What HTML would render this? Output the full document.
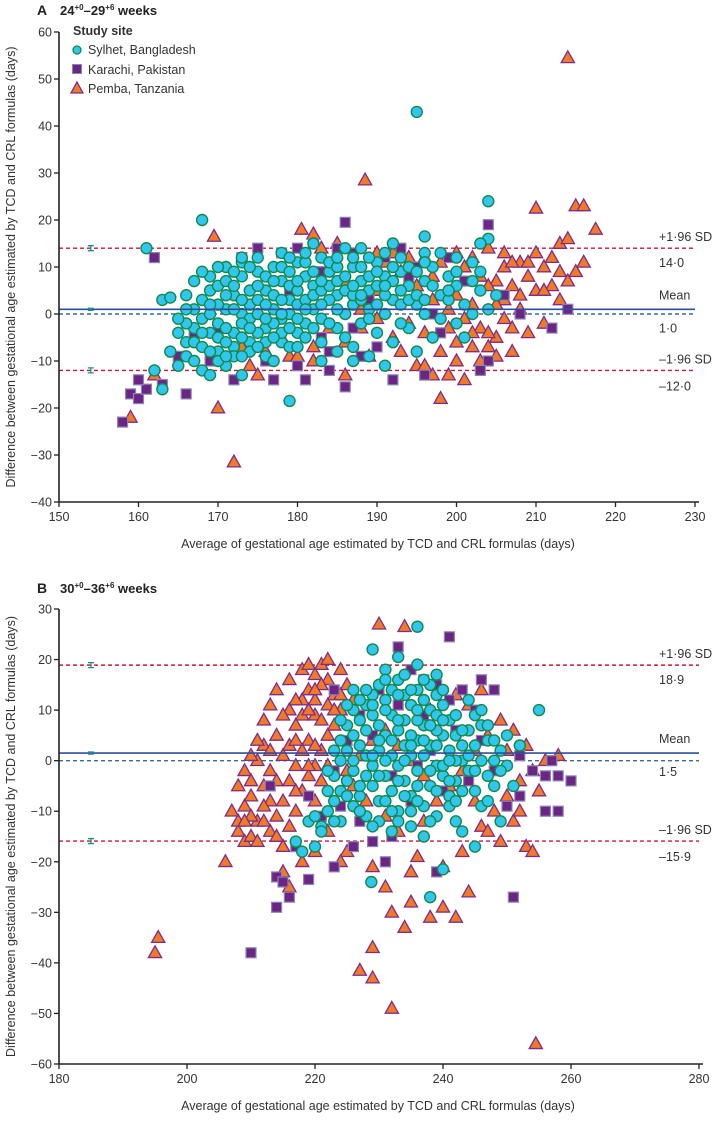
<!DOCTYPE html>
<html><head><meta charset="utf-8"><style>
body{margin:0;background:#fff}
svg{display:block;font-family:"Liberation Sans",sans-serif}
</style></head><body>
<svg id="chart" width="714" height="1134" viewBox="0 0 714 1134" xmlns="http://www.w3.org/2000/svg"></svg>
<script>
// Panel A data
const aCircX=[161,168,195,204,204,196,163,164,162,163,165,164,166,167,168,165,166,167,168,169,171,173,179,170,172,174,176,178,180,167,168,169,170,171,172,173,174,175,176,177,178,179,180,181,182,183,184,185,186,187,188,189,190,191,192,193,194,195,196,197,198,199,200,201,202,203,204,205,169,170,171,172,173,174,175,176,177,178,179,180,181,182,183,184,185,186,187,188,189,190,191,192,193,194,195,196,197,198,199,200,201,202,170,171,172,173,174,175,176,177,178,179,180,181,182,183,184,185,186,187,188,189,190,191,192,193,194,166,167,168,169,170,171,172,173,174,175,176,177,178,179,181,183,185,187,189,191,171,173,175,178,182,188,192,196,200,203,
165,166,166,167,168,169,169,170,170,171,172,172,173,173,174,174,175,175,176,176,177,177,178,178,179,179,180,180,180,181,181,182,182,183,183,184,184,185,185,186,186,187,187,188,188,189,189,190,190,191,191,192,193,193,194,195,195,196,196,197,198,199,200,202,203,168,169,171,173,177,179,181,183,185,187];
const aCircY=[14,20,43,24,16,16.5,3,3.5,-12,-16,-11,-8,-6,-3,-1,-4,-9,-10,-12,-13,-11,-13,-18.5,-8,-7,-6,-9,-6,-4,1,3,5,6,7,4,8,2,9,5,10,7,3,11,8,6,12,9,4,14,10,7,5,11,8,3,9,6,2,7,10,4,8,6,2,11,5,1,4,0,-2,1,-4,0,-1,3,-3,1,-1,0,2,-2,1,-1,3,-3,0,2,-2,1,-4,0,-6,2,-3,-8,0,-5,-1,3,-2,-5,0,2,4,1,3,5,6,2,4,3,6,5,3,4,5,6,7,5,4,3,8,6,4,7,5,3,-2,-6,-7,-4,-5,-3,-9,-5,-8,-4,-6,-2,-4,-7,-5,-6,-8,-7,-9,-11,10,11,12,13,15,14,15,13,12,15,
-1,1,4,7,-4,2,8,10,-10,-6,6,9,-2,-9,10,-3,0,-7,8,-1,7,-5,10,0,9,-3,7,-1,-7,11,1,9,-3,7,2,11,-2,10,1,8,-5,12,6,10,4,12,-1,9,2,13,6,10,12,-2,10,9,4,11,3,6,13,5,9,7,9,9,-8,-9,12,-10,12,13,-10,12,-10];
const aSqX=[158,159,160,161,160,163,166,162,170,173,175,178,180,182,185,186,187,191,193,195,199,204,204,203,177,181,184,186,188,190,184,183,176,172,169,165,167,180,192,197,201,206,208,212,214,196,198,194,189,187,183,179];
const aSqY=[-23,-17,-18,-16,-14,-15,-17,12,-4,12,14,13,14,15,14,19.5,13,12,14,10,12,19,-10,-12,-14,-14,-12,-15.5,-9,-7,-8,-5,-10,-14,-10,-9,-5,-11,-14,0,7,4,0,-3,1,-13,-4,8,3,-3,9,5];
const aTriX=[214,188.5,172,159,169.5,180.5,182,183,185,175,179,182,186,189,193,195,198,196,200,202,204,205,203,201,199,197,195,193,191,190,192,194,196,198,200,202,204,206,208,210,212,211,213,209,207,205,206,208,210,212,214,215,216,213,214,215,216,210,217.5,208,206,204,202,200,198,196,194,192,190,188,186,184,182,180,178,176,174,211,209,207,205,203,201,199,197,170,162,173,188,190,186,
200,202,204,206,207,209,211,213,203,201,197,199,205,207];
const aTriY=[54.5,28.5,-31.5,-22,16.5,18,17,14,15,-13,-9,-10,-13,-9,-8,-11,-18,-11,-10,-7,-7,-5,-3,-1,1,3,6,9,11,13,13,12,12,11,13,12,14,13,11,13,12,10,9,8,6,7,10,4,5,6,7,9,11,15,16,23,23,22.5,18,1,-1,-4,-4,-6,-8,-4,-2,-5,-1,1,-6,-3,-7,-9,-5,-8,-11,-2,-4,-8,-9,-10,-14,-13,-13,-20,-13,-7,-3,5,7,
4,2,6,3,11,11,5,3,8,10,8,-3,2,-3];
// Panel B data
const bCircX=[233,236,229,231,228.8,238,240,243,245,255,249,252,220,218,217,219,221,222,223,224,225,224,226,227,228,229,230,231,232,233,234,235,236,237,238,239,240,241,242,243,244,245,246,247,248,249,250,251,225,226,227,228,229,230,231,232,233,234,235,236,237,238,239,240,241,242,243,244,245,246,247,224,225,226,227,228,229,230,231,232,233,234,235,236,237,238,239,240,241,242,228,229,230,231,232,233,234,235,236,237,238,239,240,241,242,226,227,223,222,221,220,230,232,235,237,239,226,224,233,236,
222,223,224,225,226,227,228,228,229,229,230,230,231,231,232,232,233,233,234,234,234,235,235,236,236,237,237,238,238,239,239,240,240,241,241,242,242,243,243,244,244,245,245,246,246,247,247,248,248,249,250,227,231,235,238,233,229,225,223,236,239];
const bCircY=[20.5,26.5,22,18,-24,-27,-21.5,-14,-17,10,-12,3,-17,-18,-16,-12,-13,-10,-8,-6,-4,-12,-9,-7,-11,-5,-8,-3,-6,-10,-4,-7,-2,-9,-5,-1,-3,-7,-4,0,-2,-6,-9,-3,0,2,-1,-5,2,5,8,11,13,15,12,9,6,3,1,4,7,10,13,11,8,5,3,6,9,7,4,0,7,10,3,1,-1,2,5,1,-1,8,11,14,12,15,9,5,2,0,6,9,4,0,14,16,13,5,8,1,3,6,-1,-9,-12,-2,-5,-3,-6,-14,-11,-12,-14,-13,-15,-11,0,4,-4,-5,
-2,2,8,11,14,-10,-3,14,1,11,7,-3,10,-8,4,-10,8,13,0,-7,17,3,14,-8,10,4,16,-2,7,3,-6,8,14,0,-4,9,-8,6,-6,1,12,3,-2,0,10,7,-8,-5,4,-2,5,12,16,-10,-12,-12,-13,-7,-12,19,17];
const bSqX=[210,214,215,216,214,219,217,223,226,229,232,231,239,251,241,233,235,237,239,243,246,248,245,241,237,233,230,227,225,223,224,227,235,240,244,248,252,254,256,257,258,260,258,256,252,250,246,242,238,236,232,229,223,219,221,213];
const bSqY=[-38,-23,-24,-27,-29,-23.5,-17,-21,-17,-16,-15,-20,-22,-27,24.5,22.5,18,16,15,14,16,14,10,12,9,11,14,9,4,-2,-9,-12,-8,-6,-4,-2,1,-2,-3,0,-3,-4,-10,-10,-7,-9,4,6,2,-1,-3,5,14,-7,-11,-5];
const bTriX=[195.5,195,206,208,208,209,209,210,211,210,212,213,211,212,213,214,215,214,216,217,216,218,219,220,221,222,223,224,225,226,224,223,222,221,220,219,218,217,216,215,220,219,221,222,218,217,220,215,216,218,220,227,229,229,232,230,234,254.5,242,234,232,235,238,240,231,235,229,236,240,244,243,246,248,250,252,254,256,253,251,249,247,245,243,241,239,237,233,231,228,226,225,227,229,231,233,235,237,245,247,249,251,253,255,252,244,246,238,242,250,254,258,225,224,222,213,
207,208,209,210,210,211,212,212,213,213,214,214,215,215,216,216,217,217,218,218,219,219,220,220,221,221,222,222,223,224,217,219,220,214,212,211,210,209];
const bTriY=[-35,-38,-20,-14,-12,-9,-16,-15,-12,-7,-5,-2,0,3,-8,5,1,-11,-4,7,10,12,14,17,19,16,13,18,15,12,10,7,5,2,-1,-3,-6,-10,-13,-17,9,4,8,11,2,-1,-8,-22,-25,-20,-18,-41.5,-43,-37,-49,27,26.5,-56,-31,-33,-30,-28,-31,-29,-25,-22,-21,-19,-21,-26,-18,-13,-10,-7,-4,-2,0,3,6,8,5,2,-2,-5,-8,-12,-14,-11,-8,-5,-2,1,4,6,3,0,-3,-8,-14,-16,-12,-17,-6,-10,11,14,10,13,2,-18,1,-18,-20,-14,-14,
-10,-5,-2,1,-11,4,-9,8,2,11,-4,14,9,-8,3,16,12,-6,18,9,-1,10,12,3,15,-4,20,-1,10,13,4,19,14,-15,-12,-16,-4,-12];
// Axis ticks and stats
const aXTicks=[150,160,170,180,190,200,210,220,230];
const aYTicks=[-40,-30,-20,-10,0,10,20,30,40,50,60];
const bXTicks=[180,200,220,240,260,280];
const bYTicks=[-60,-50,-40,-30,-20,-10,0,10,20,30];
const aStats=[14.0,1.0,-12.0];
const bStats=[18.9,1.5,-15.9];

const NS="http://www.w3.org/2000/svg";
const svg=document.getElementById('chart');
function mk(tag,attrs,parent){const e=document.createElementNS(NS,tag);for(const k in attrs)e.setAttribute(k,attrs[k]);(parent||svg).appendChild(e);return e;}
function txt(s,attrs,parent){const e=mk('text',attrs,parent);e.textContent=s;return e;}

function panel(cfg){
  const g=mk('g',{});
  
  
  const sx=v=>cfg.x0+(v-cfg.xmin)*(cfg.x1-cfg.x0)/(cfg.xmax-cfg.xmin);
  const sy=v=>cfg.y0+(v-cfg.ymin)*(cfg.y1-cfg.y0)/(cfg.ymax-cfg.ymin);
  const st=cfg.stats;
  let l;
  l=mk('line',{x1:cfg.x0,x2:cfg.x1,y1:sy(st[0]),y2:sy(st[0]),stroke:'#c8173c','stroke-width':1.4,'stroke-dasharray':'4,3'},g);
  
  l=mk('line',{x1:cfg.x0,x2:cfg.x1,y1:sy(st[2]),y2:sy(st[2]),stroke:'#c8173c','stroke-width':1.4,'stroke-dasharray':'4,3'},g);
  
  l=mk('line',{x1:cfg.x0,x2:cfg.x1,y1:sy(0),y2:sy(0),stroke:'#3a6e80','stroke-width':1.4,'stroke-dasharray':'4,3'},g);
  
  const tri=mk('g',{},g);
  cfg.tx.forEach((v,i)=>{const x=sx(v),y=sy(cfg.ty[i]);
    const p=mk('polygon',{points:`${x},${y-7} ${x+6.6},${y+4.8} ${x-6.6},${y+4.8}`,fill:'#f27a24',stroke:'#7b2d8e','stroke-width':1.3},tri);
    });
  const sq=mk('g',{},g);
  cfg.sx_.forEach((v,i)=>{const x=sx(v),y=sy(cfg.sy_[i]);
    const p=mk('rect',{x:x-5,y:y-5,width:10,height:10,fill:'#6c2585',stroke:'#8b85b5','stroke-width':1.2},sq);
    });
  const ci=mk('g',{},g);
  cfg.cx.forEach((v,i)=>{const x=sx(v),y=sy(cfg.cy[i]);
    const p=mk('circle',{cx:x,cy:y,r:5.5,fill:'#2fc6ef',stroke:'#15894a','stroke-width':1.4},ci);
    });
  l=mk('line',{x1:cfg.x0,x2:cfg.x1,y1:sy(st[1]),y2:sy(st[1]),stroke:'#2e4f9e','stroke-width':1.6},g);
  
  const ex=sx(cfg.ebx);
  st.forEach((v,i)=>{const y=sy(v),h=i==1?1:2.5;
    const eb=mk('path',{d:`M${ex-3},${y-h}H${ex+3}M${ex},${y-h}V${y+h}M${ex-3},${y+h}H${ex+3}`,stroke:'#1f8f8a','stroke-width':1.3,fill:'none'},g);
    });
  const ax=mk('path',{d:`M${cfg.x0},${sy(cfg.ymax)}V${cfg.y0}H${cfg.x1+4}`,stroke:'#222','stroke-width':1.6,fill:'none'},g);
  
  cfg.xt.forEach(v=>{const x=sx(v);mk('line',{x1:x,x2:x,y1:cfg.y0,y2:cfg.y0+5,stroke:'#222','stroke-width':1.3},g);
    const t=txt(String(v),{x:x,y:cfg.y0+19,'text-anchor':'middle','font-size':12.5,fill:'#333'},g);
    });
  cfg.yt.forEach(v=>{const y=sy(v);mk('line',{x1:cfg.x0-5,x2:cfg.x0,y1:y,y2:y,stroke:'#222','stroke-width':1.3},g);
    const t=txt(v<0?'\u2212'+(-v):String(v),{x:cfg.x0-7,y:y+4.5,'text-anchor':'end','font-size':12.5,fill:'#333'},g);
    });
  const lab=[['+1·96 SD',sy(st[0])-7],[st[0].toFixed(1).replace('.','·'),sy(st[0])+19],['Mean',sy(st[1])-10],[st[1].toFixed(1).replace('.','·'),sy(st[1])+23],['–1·96 SD',sy(st[2])-7],[(st[2]<0?'–':'')+Math.abs(st[2]).toFixed(1).replace('.','·'),sy(st[2])+20]];
  lab.forEach(a=>{const t=txt(a[0],{x:659,y:a[1],'font-size':12.5,fill:'#333'},g);
    });
  const xt=txt('Average of gestational age estimated by TCD and CRL formulas (days)',{x:378,y:cfg.y0+46,'text-anchor':'middle','font-size':12.5,fill:'#333'},g);
  
  const yc=(sy(cfg.ymax)+cfg.y0)/2;
  const yt=txt('Difference between gestational age estimated by TCD and CRL formulas (days)',{x:0,y:0,'text-anchor':'middle','font-size':12.5,fill:'#333',transform:`translate(15,${yc}) rotate(-90)`},g);
  
  const pl=txt(cfg.letter,{x:37,y:cfg.titleY,'font-size':14,'font-weight':'bold',fill:'#222'},g);
  
  const ti=mk('text',{x:60,y:cfg.titleY,'font-size':13,'font-weight':'bold',fill:'#222'},g);
  
  ti.innerHTML=cfg.title;
}
panel({name:'panel-a',letter:'A',titleY:15,title:'24<tspan font-size="8" dy="-5">+0</tspan><tspan dy="5">–29</tspan><tspan font-size="8" dy="-5">+6</tspan><tspan dy="5"> weeks</tspan>',
  x0:59,x1:695,xmin:150,xmax:230,y0:502,y1:32,ymin:-40,ymax:60,xt:aXTicks,yt:aYTicks,stats:aStats,ebx:154,
  cx:aCircX,cy:aCircY,sx_:aSqX,sy_:aSqY,tx:aTriX,ty:aTriY});
panel({name:'panel-b',letter:'B',titleY:593,title:'30<tspan font-size="8" dy="-5">+0</tspan><tspan dy="5">–36</tspan><tspan font-size="8" dy="-5">+6</tspan><tspan dy="5"> weeks</tspan>',
  x0:59,x1:699,xmin:180,xmax:280,y0:1064,y1:609,ymin:-60,ymax:30,xt:bXTicks,yt:bYTicks,stats:bStats,ebx:185,
  cx:bCircX,cy:bCircY,sx_:bSqX,sy_:bSqY,tx:bTriX,ty:bTriY});
const lg=mk('g',{});


const lt=txt('Study site',{x:73,y:35,'font-size':12.5,'font-weight':'bold',fill:'#333'},lg);


mk('circle',{cx:77,cy:50,r:4,fill:'#2fc6ef',stroke:'#15894a','stroke-width':1.3},lg);
mk('rect',{x:72.5,y:64.5,width:9,height:9,fill:'#6c2585',stroke:'#8b85b5','stroke-width':1},lg);
mk('polygon',{points:'77,82 83,93 71,93',fill:'#f27a24',stroke:'#7b2d8e','stroke-width':1.3},lg);
[['Sylhet, Bangladesh',54],['Karachi, Pakistan',74],['Pemba, Tanzania',93]].forEach(a=>{
  const t=txt(a[0],{x:88,y:a[1],'font-size':12.5,fill:'#333'},lg);
  
  
});
</script>
</body></html>
